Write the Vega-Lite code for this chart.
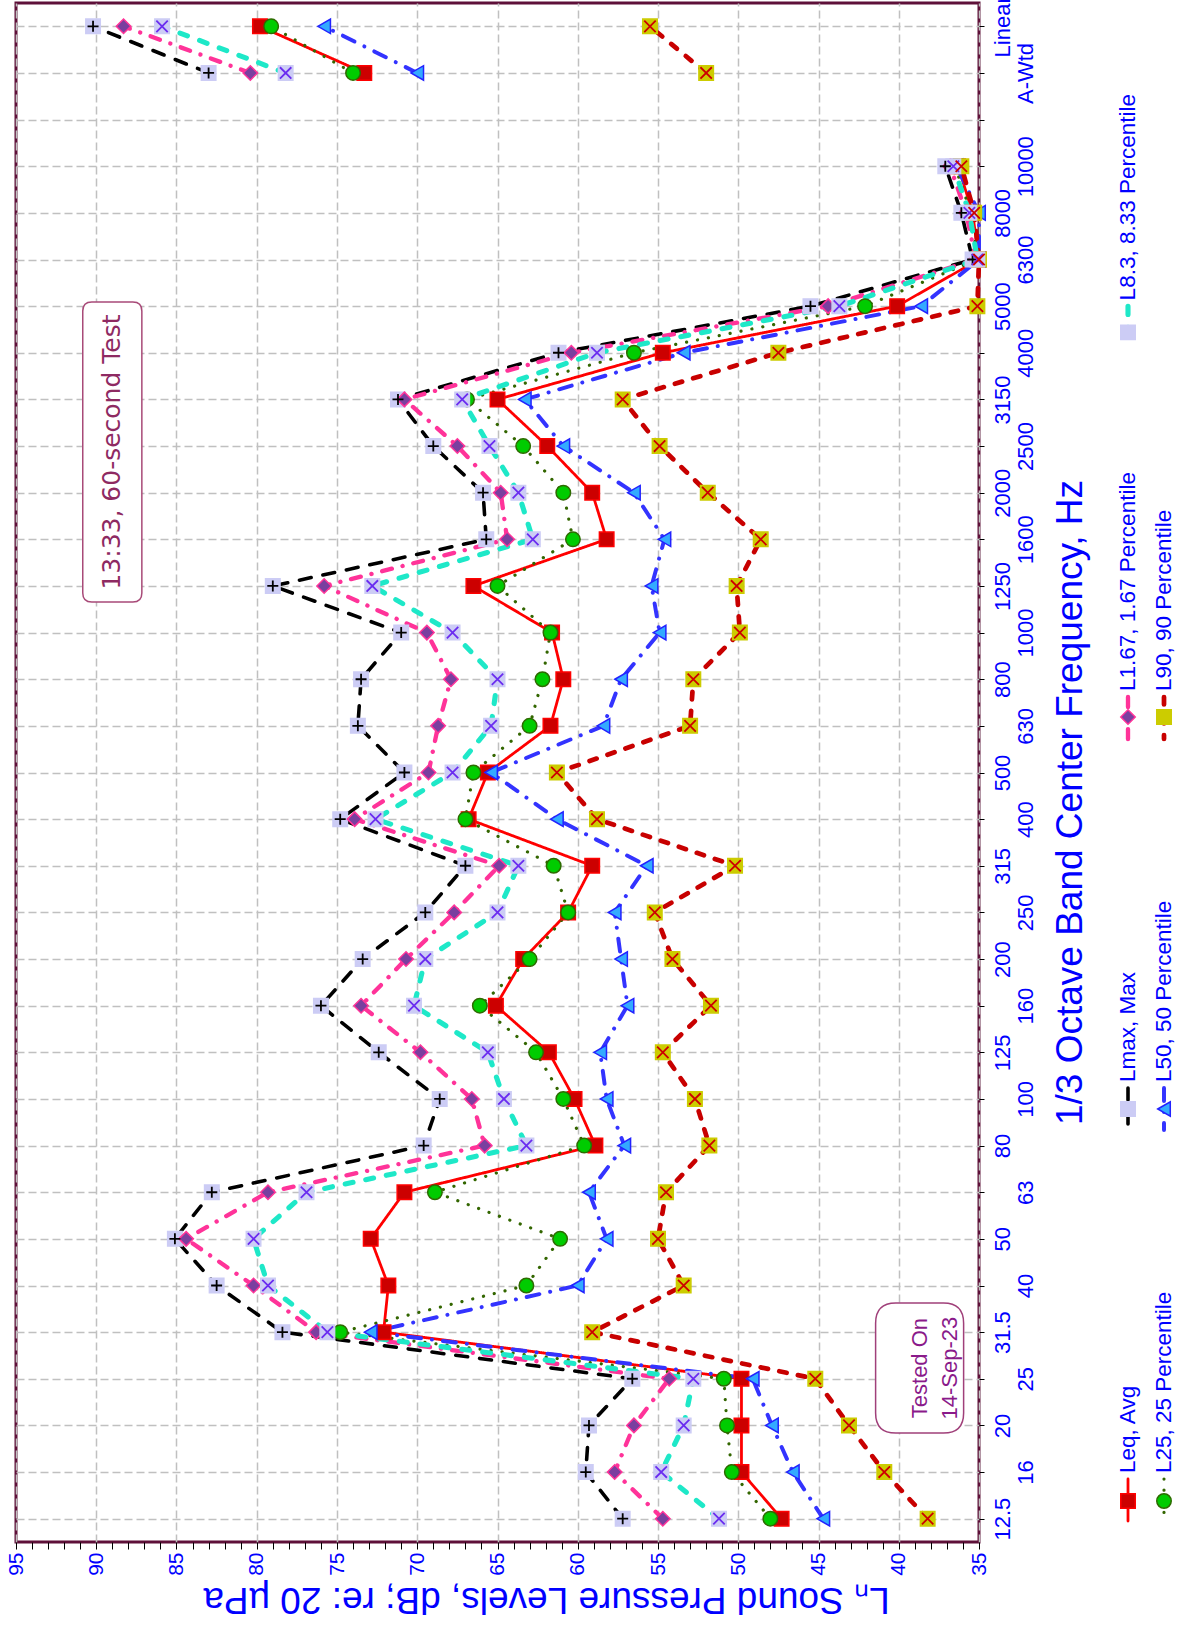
{
  "$schema": "https://vega.github.io/schema/vega-lite/v6.json",
  "width": 963,
  "height": 1539,
  "autosize": {"type": "none"},
  "padding": {"left": 16, "top": 3, "right": 201, "bottom": 91},
  "background": "white",
  "config": {
    "view": {"stroke": "#5e1039", "strokeWidth": 3},
    "font": "Liberation Sans"
  },
  "data": {"values": [
    {"freq":"12.5","series":"Leq, Avg","db":47.3,"part":"band"},{"freq":"16","series":"Leq, Avg","db":49.8,"part":"band"},{"freq":"20","series":"Leq, Avg","db":49.8,"part":"band"},{"freq":"25","series":"Leq, Avg","db":49.8,"part":"band"},{"freq":"31.5","series":"Leq, Avg","db":72.1,"part":"band"},{"freq":"40","series":"Leq, Avg","db":71.8,"part":"band"},{"freq":"50","series":"Leq, Avg","db":72.9,"part":"band"},{"freq":"63","series":"Leq, Avg","db":70.8,"part":"band"},{"freq":"80","series":"Leq, Avg","db":58.9,"part":"band"},{"freq":"100","series":"Leq, Avg","db":60.2,"part":"band"},{"freq":"125","series":"Leq, Avg","db":61.8,"part":"band"},{"freq":"160","series":"Leq, Avg","db":65.1,"part":"band"},{"freq":"200","series":"Leq, Avg","db":63.4,"part":"band"},{"freq":"250","series":"Leq, Avg","db":60.6,"part":"band"},{"freq":"315","series":"Leq, Avg","db":59.1,"part":"band"},{"freq":"400","series":"Leq, Avg","db":66.8,"part":"band"},{"freq":"500","series":"Leq, Avg","db":65.6,"part":"band"},{"freq":"630","series":"Leq, Avg","db":61.7,"part":"band"},{"freq":"800","series":"Leq, Avg","db":60.9,"part":"band"},{"freq":"1000","series":"Leq, Avg","db":61.6,"part":"band"},{"freq":"1250","series":"Leq, Avg","db":66.5,"part":"band"},{"freq":"1600","series":"Leq, Avg","db":58.2,"part":"band"},{"freq":"2000","series":"Leq, Avg","db":59.1,"part":"band"},{"freq":"2500","series":"Leq, Avg","db":61.9,"part":"band"},{"freq":"3150","series":"Leq, Avg","db":65.0,"part":"band"},{"freq":"4000","series":"Leq, Avg","db":54.7,"part":"band"},{"freq":"5000","series":"Leq, Avg","db":40.1,"part":"band"},{"freq":"6300","series":"Leq, Avg","db":35.0,"part":"band"},{"freq":"8000","series":"Leq, Avg","db":35.4,"part":"band"},{"freq":"10000","series":"Leq, Avg","db":36.3,"part":"band"},{"freq":"A-Wtd","series":"Leq, Avg","db":73.3,"part":"overall"},{"freq":"Linear","series":"Leq, Avg","db":79.8,"part":"overall"},
    {"freq":"12.5","series":"L25, 25 Percentile","db":48.0,"part":"band"},{"freq":"16","series":"L25, 25 Percentile","db":50.4,"part":"band"},{"freq":"20","series":"L25, 25 Percentile","db":50.7,"part":"band"},{"freq":"25","series":"L25, 25 Percentile","db":50.9,"part":"band"},{"freq":"31.5","series":"L25, 25 Percentile","db":74.8,"part":"band"},{"freq":"40","series":"L25, 25 Percentile","db":63.2,"part":"band"},{"freq":"50","series":"L25, 25 Percentile","db":61.1,"part":"band"},{"freq":"63","series":"L25, 25 Percentile","db":68.9,"part":"band"},{"freq":"80","series":"L25, 25 Percentile","db":59.6,"part":"band"},{"freq":"100","series":"L25, 25 Percentile","db":60.9,"part":"band"},{"freq":"125","series":"L25, 25 Percentile","db":62.6,"part":"band"},{"freq":"160","series":"L25, 25 Percentile","db":66.1,"part":"band"},{"freq":"200","series":"L25, 25 Percentile","db":63.0,"part":"band"},{"freq":"250","series":"L25, 25 Percentile","db":60.6,"part":"band"},{"freq":"315","series":"L25, 25 Percentile","db":61.5,"part":"band"},{"freq":"400","series":"L25, 25 Percentile","db":67.0,"part":"band"},{"freq":"500","series":"L25, 25 Percentile","db":66.5,"part":"band"},{"freq":"630","series":"L25, 25 Percentile","db":63.0,"part":"band"},{"freq":"800","series":"L25, 25 Percentile","db":62.2,"part":"band"},{"freq":"1000","series":"L25, 25 Percentile","db":61.7,"part":"band"},{"freq":"1250","series":"L25, 25 Percentile","db":65.0,"part":"band"},{"freq":"1600","series":"L25, 25 Percentile","db":60.3,"part":"band"},{"freq":"2000","series":"L25, 25 Percentile","db":60.9,"part":"band"},{"freq":"2500","series":"L25, 25 Percentile","db":63.4,"part":"band"},{"freq":"3150","series":"L25, 25 Percentile","db":66.9,"part":"band"},{"freq":"4000","series":"L25, 25 Percentile","db":56.5,"part":"band"},{"freq":"5000","series":"L25, 25 Percentile","db":42.1,"part":"band"},{"freq":"6300","series":"L25, 25 Percentile","db":35.1,"part":"band"},{"freq":"8000","series":"L25, 25 Percentile","db":35.5,"part":"band"},{"freq":"10000","series":"L25, 25 Percentile","db":36.5,"part":"band"},{"freq":"A-Wtd","series":"L25, 25 Percentile","db":74.0,"part":"overall"},{"freq":"Linear","series":"L25, 25 Percentile","db":79.1,"part":"overall"},
    {"freq":"12.5","series":"Lmax, Max","db":57.2,"part":"band"},{"freq":"16","series":"Lmax, Max","db":59.5,"part":"band"},{"freq":"20","series":"Lmax, Max","db":59.3,"part":"band"},{"freq":"25","series":"Lmax, Max","db":56.6,"part":"band"},{"freq":"31.5","series":"Lmax, Max","db":78.4,"part":"band"},{"freq":"40","series":"Lmax, Max","db":82.5,"part":"band"},{"freq":"50","series":"Lmax, Max","db":85.1,"part":"band"},{"freq":"63","series":"Lmax, Max","db":82.8,"part":"band"},{"freq":"80","series":"Lmax, Max","db":69.6,"part":"band"},{"freq":"100","series":"Lmax, Max","db":68.6,"part":"band"},{"freq":"125","series":"Lmax, Max","db":72.4,"part":"band"},{"freq":"160","series":"Lmax, Max","db":76.0,"part":"band"},{"freq":"200","series":"Lmax, Max","db":73.4,"part":"band"},{"freq":"250","series":"Lmax, Max","db":69.5,"part":"band"},{"freq":"315","series":"Lmax, Max","db":67.0,"part":"band"},{"freq":"400","series":"Lmax, Max","db":74.8,"part":"band"},{"freq":"500","series":"Lmax, Max","db":70.8,"part":"band"},{"freq":"630","series":"Lmax, Max","db":73.7,"part":"band"},{"freq":"800","series":"Lmax, Max","db":73.5,"part":"band"},{"freq":"1000","series":"Lmax, Max","db":71.0,"part":"band"},{"freq":"1250","series":"Lmax, Max","db":79.0,"part":"band"},{"freq":"1600","series":"Lmax, Max","db":65.7,"part":"band"},{"freq":"2000","series":"Lmax, Max","db":65.9,"part":"band"},{"freq":"2500","series":"Lmax, Max","db":69.0,"part":"band"},{"freq":"3150","series":"Lmax, Max","db":71.2,"part":"band"},{"freq":"4000","series":"Lmax, Max","db":61.2,"part":"band"},{"freq":"5000","series":"Lmax, Max","db":45.5,"part":"band"},{"freq":"6300","series":"Lmax, Max","db":35.4,"part":"band"},{"freq":"8000","series":"Lmax, Max","db":36.1,"part":"band"},{"freq":"10000","series":"Lmax, Max","db":37.1,"part":"band"},{"freq":"A-Wtd","series":"Lmax, Max","db":83.0,"part":"overall"},{"freq":"Linear","series":"Lmax, Max","db":90.2,"part":"overall"},
    {"freq":"12.5","series":"L50, 50 Percentile","db":44.7,"part":"band"},{"freq":"16","series":"L50, 50 Percentile","db":46.6,"part":"band"},{"freq":"20","series":"L50, 50 Percentile","db":47.9,"part":"band"},{"freq":"25","series":"L50, 50 Percentile","db":49.1,"part":"band"},{"freq":"31.5","series":"L50, 50 Percentile","db":72.9,"part":"band"},{"freq":"40","series":"L50, 50 Percentile","db":60.0,"part":"band"},{"freq":"50","series":"L50, 50 Percentile","db":58.2,"part":"band"},{"freq":"63","series":"L50, 50 Percentile","db":59.3,"part":"band"},{"freq":"80","series":"L50, 50 Percentile","db":57.1,"part":"band"},{"freq":"100","series":"L50, 50 Percentile","db":58.2,"part":"band"},{"freq":"125","series":"L50, 50 Percentile","db":58.6,"part":"band"},{"freq":"160","series":"L50, 50 Percentile","db":56.9,"part":"band"},{"freq":"200","series":"L50, 50 Percentile","db":57.3,"part":"band"},{"freq":"250","series":"L50, 50 Percentile","db":57.7,"part":"band"},{"freq":"315","series":"L50, 50 Percentile","db":55.7,"part":"band"},{"freq":"400","series":"L50, 50 Percentile","db":61.3,"part":"band"},{"freq":"500","series":"L50, 50 Percentile","db":65.4,"part":"band"},{"freq":"630","series":"L50, 50 Percentile","db":58.4,"part":"band"},{"freq":"800","series":"L50, 50 Percentile","db":57.3,"part":"band"},{"freq":"1000","series":"L50, 50 Percentile","db":54.9,"part":"band"},{"freq":"1250","series":"L50, 50 Percentile","db":55.4,"part":"band"},{"freq":"1600","series":"L50, 50 Percentile","db":54.6,"part":"band"},{"freq":"2000","series":"L50, 50 Percentile","db":56.5,"part":"band"},{"freq":"2500","series":"L50, 50 Percentile","db":60.9,"part":"band"},{"freq":"3150","series":"L50, 50 Percentile","db":63.3,"part":"band"},{"freq":"4000","series":"L50, 50 Percentile","db":53.4,"part":"band"},{"freq":"5000","series":"L50, 50 Percentile","db":38.6,"part":"band"},{"freq":"6300","series":"L50, 50 Percentile","db":35.0,"part":"band"},{"freq":"8000","series":"L50, 50 Percentile","db":35.0,"part":"band"},{"freq":"10000","series":"L50, 50 Percentile","db":36.4,"part":"band"},{"freq":"A-Wtd","series":"L50, 50 Percentile","db":70.0,"part":"overall"},{"freq":"Linear","series":"L50, 50 Percentile","db":75.8,"part":"overall"},
    {"freq":"12.5","series":"L1.67, 1.67 Percentile","db":54.7,"part":"band"},{"freq":"16","series":"L1.67, 1.67 Percentile","db":57.7,"part":"band"},{"freq":"20","series":"L1.67, 1.67 Percentile","db":56.5,"part":"band"},{"freq":"25","series":"L1.67, 1.67 Percentile","db":54.3,"part":"band"},{"freq":"31.5","series":"L1.67, 1.67 Percentile","db":76.3,"part":"band"},{"freq":"40","series":"L1.67, 1.67 Percentile","db":80.2,"part":"band"},{"freq":"50","series":"L1.67, 1.67 Percentile","db":84.4,"part":"band"},{"freq":"63","series":"L1.67, 1.67 Percentile","db":79.3,"part":"band"},{"freq":"80","series":"L1.67, 1.67 Percentile","db":65.8,"part":"band"},{"freq":"100","series":"L1.67, 1.67 Percentile","db":66.6,"part":"band"},{"freq":"125","series":"L1.67, 1.67 Percentile","db":69.8,"part":"band"},{"freq":"160","series":"L1.67, 1.67 Percentile","db":73.5,"part":"band"},{"freq":"200","series":"L1.67, 1.67 Percentile","db":70.7,"part":"band"},{"freq":"250","series":"L1.67, 1.67 Percentile","db":67.7,"part":"band"},{"freq":"315","series":"L1.67, 1.67 Percentile","db":64.9,"part":"band"},{"freq":"400","series":"L1.67, 1.67 Percentile","db":73.9,"part":"band"},{"freq":"500","series":"L1.67, 1.67 Percentile","db":69.3,"part":"band"},{"freq":"630","series":"L1.67, 1.67 Percentile","db":68.7,"part":"band"},{"freq":"800","series":"L1.67, 1.67 Percentile","db":67.9,"part":"band"},{"freq":"1000","series":"L1.67, 1.67 Percentile","db":69.4,"part":"band"},{"freq":"1250","series":"L1.67, 1.67 Percentile","db":75.8,"part":"band"},{"freq":"1600","series":"L1.67, 1.67 Percentile","db":64.4,"part":"band"},{"freq":"2000","series":"L1.67, 1.67 Percentile","db":64.8,"part":"band"},{"freq":"2500","series":"L1.67, 1.67 Percentile","db":67.5,"part":"band"},{"freq":"3150","series":"L1.67, 1.67 Percentile","db":70.8,"part":"band"},{"freq":"4000","series":"L1.67, 1.67 Percentile","db":60.4,"part":"band"},{"freq":"5000","series":"L1.67, 1.67 Percentile","db":44.4,"part":"band"},{"freq":"6300","series":"L1.67, 1.67 Percentile","db":35.2,"part":"band"},{"freq":"8000","series":"L1.67, 1.67 Percentile","db":35.8,"part":"band"},{"freq":"10000","series":"L1.67, 1.67 Percentile","db":36.8,"part":"band"},{"freq":"A-Wtd","series":"L1.67, 1.67 Percentile","db":80.4,"part":"overall"},{"freq":"Linear","series":"L1.67, 1.67 Percentile","db":88.3,"part":"overall"},
    {"freq":"12.5","series":"L90, 90 Percentile","db":38.2,"part":"band"},{"freq":"16","series":"L90, 90 Percentile","db":40.9,"part":"band"},{"freq":"20","series":"L90, 90 Percentile","db":43.1,"part":"band"},{"freq":"25","series":"L90, 90 Percentile","db":45.2,"part":"band"},{"freq":"31.5","series":"L90, 90 Percentile","db":59.1,"part":"band"},{"freq":"40","series":"L90, 90 Percentile","db":53.4,"part":"band"},{"freq":"50","series":"L90, 90 Percentile","db":55.0,"part":"band"},{"freq":"63","series":"L90, 90 Percentile","db":54.5,"part":"band"},{"freq":"80","series":"L90, 90 Percentile","db":51.8,"part":"band"},{"freq":"100","series":"L90, 90 Percentile","db":52.7,"part":"band"},{"freq":"125","series":"L90, 90 Percentile","db":54.7,"part":"band"},{"freq":"160","series":"L90, 90 Percentile","db":51.7,"part":"band"},{"freq":"200","series":"L90, 90 Percentile","db":54.1,"part":"band"},{"freq":"250","series":"L90, 90 Percentile","db":55.2,"part":"band"},{"freq":"315","series":"L90, 90 Percentile","db":50.2,"part":"band"},{"freq":"400","series":"L90, 90 Percentile","db":58.8,"part":"band"},{"freq":"500","series":"L90, 90 Percentile","db":61.3,"part":"band"},{"freq":"630","series":"L90, 90 Percentile","db":53.0,"part":"band"},{"freq":"800","series":"L90, 90 Percentile","db":52.8,"part":"band"},{"freq":"1000","series":"L90, 90 Percentile","db":49.9,"part":"band"},{"freq":"1250","series":"L90, 90 Percentile","db":50.1,"part":"band"},{"freq":"1600","series":"L90, 90 Percentile","db":48.6,"part":"band"},{"freq":"2000","series":"L90, 90 Percentile","db":51.9,"part":"band"},{"freq":"2500","series":"L90, 90 Percentile","db":54.9,"part":"band"},{"freq":"3150","series":"L90, 90 Percentile","db":57.2,"part":"band"},{"freq":"4000","series":"L90, 90 Percentile","db":47.5,"part":"band"},{"freq":"5000","series":"L90, 90 Percentile","db":35.1,"part":"band"},{"freq":"6300","series":"L90, 90 Percentile","db":35.0,"part":"band"},{"freq":"8000","series":"L90, 90 Percentile","db":35.3,"part":"band"},{"freq":"10000","series":"L90, 90 Percentile","db":36.1,"part":"band"},{"freq":"A-Wtd","series":"L90, 90 Percentile","db":52.0,"part":"overall"},{"freq":"Linear","series":"L90, 90 Percentile","db":55.5,"part":"overall"},
    {"freq":"12.5","series":"L8.3, 8.33 Percentile","db":51.2,"part":"band"},{"freq":"16","series":"L8.3, 8.33 Percentile","db":54.8,"part":"band"},{"freq":"20","series":"L8.3, 8.33 Percentile","db":53.4,"part":"band"},{"freq":"25","series":"L8.3, 8.33 Percentile","db":52.8,"part":"band"},{"freq":"31.5","series":"L8.3, 8.33 Percentile","db":75.6,"part":"band"},{"freq":"40","series":"L8.3, 8.33 Percentile","db":79.3,"part":"band"},{"freq":"50","series":"L8.3, 8.33 Percentile","db":80.2,"part":"band"},{"freq":"63","series":"L8.3, 8.33 Percentile","db":76.9,"part":"band"},{"freq":"80","series":"L8.3, 8.33 Percentile","db":63.2,"part":"band"},{"freq":"100","series":"L8.3, 8.33 Percentile","db":64.6,"part":"band"},{"freq":"125","series":"L8.3, 8.33 Percentile","db":65.6,"part":"band"},{"freq":"160","series":"L8.3, 8.33 Percentile","db":70.2,"part":"band"},{"freq":"200","series":"L8.3, 8.33 Percentile","db":69.5,"part":"band"},{"freq":"250","series":"L8.3, 8.33 Percentile","db":65.0,"part":"band"},{"freq":"315","series":"L8.3, 8.33 Percentile","db":63.7,"part":"band"},{"freq":"400","series":"L8.3, 8.33 Percentile","db":72.6,"part":"band"},{"freq":"500","series":"L8.3, 8.33 Percentile","db":67.8,"part":"band"},{"freq":"630","series":"L8.3, 8.33 Percentile","db":65.4,"part":"band"},{"freq":"800","series":"L8.3, 8.33 Percentile","db":65.0,"part":"band"},{"freq":"1000","series":"L8.3, 8.33 Percentile","db":67.8,"part":"band"},{"freq":"1250","series":"L8.3, 8.33 Percentile","db":72.8,"part":"band"},{"freq":"1600","series":"L8.3, 8.33 Percentile","db":62.8,"part":"band"},{"freq":"2000","series":"L8.3, 8.33 Percentile","db":63.7,"part":"band"},{"freq":"2500","series":"L8.3, 8.33 Percentile","db":65.5,"part":"band"},{"freq":"3150","series":"L8.3, 8.33 Percentile","db":67.2,"part":"band"},{"freq":"4000","series":"L8.3, 8.33 Percentile","db":58.8,"part":"band"},{"freq":"5000","series":"L8.3, 8.33 Percentile","db":43.7,"part":"band"},{"freq":"6300","series":"L8.3, 8.33 Percentile","db":35.1,"part":"band"},{"freq":"8000","series":"L8.3, 8.33 Percentile","db":35.6,"part":"band"},{"freq":"10000","series":"L8.3, 8.33 Percentile","db":36.6,"part":"band"},{"freq":"A-Wtd","series":"L8.3, 8.33 Percentile","db":78.2,"part":"overall"},{"freq":"Linear","series":"L8.3, 8.33 Percentile","db":85.9,"part":"overall"}
  ]},
  "encoding": {
    "x": {
      "field": "db", "type": "quantitative",
      "scale": {"domain": [35, 95], "reverse": true, "nice": false, "zero": false},
      "axis": {
        "orient": "bottom",
        "values": [35,36,37,38,39,40,41,42,43,44,45,46,47,48,49,50,51,52,53,54,55,56,57,58,59,60,61,62,63,64,65,66,67,68,69,70,71,72,73,74,75,76,77,78,79,80,81,82,83,84,85,86,87,88,89,90,91,92,93,94,95],
        "labelExpr": "datum.value % 5 === 0 ? datum.label : ''",
        "labelAngle": 270, "labelAlign": "right", "labelBaseline": "middle",
        "labelFont": "Liberation Sans", "labelFontSize": 21, "labelColor": "#0000ff",
        "labelPadding": 3, "labelOverlap": false, "labelFlush": false,
        "tickSize": 7, "tickColor": "#000000", "tickWidth": 1,
        "domain": false,
        "grid": true, "gridColor": "#c0c0c0", "gridDash": [8, 4], "gridWidth": 1.5,
        "gridOpacity": {"condition": {"test": "datum.value % 5 === 0", "value": 1}, "value": 0},
        "title": "Lₙ Sound Pressure Levels, dB; re: 20 µPa",
        "titleAngle": 180, "titleBaseline": "bottom", "titleFont": "Liberation Sans",
        "titleFontSize": 37, "titleFontWeight": "normal", "titleColor": "#0000ff",
        "titlePadding": 4, "titleX": 530
      }
    },
    "y": {
      "field": "freq", "type": "ordinal",
      "scale": {"type": "point", "padding": 0.5, "domain": ["Linear","A-Wtd","gap","10000","8000","6300","5000","4000","3150","2500","2000","1600","1250","1000","800","630","500","400","315","250","200","160","125","100","80","63","50","40","31.5","25","20","16","12.5"]},
      "axis": {
        "orient": "right",
        "labelExpr": "datum.label == 'gap' ? '' : indexof(['16','25','40','63','100','160','250','400','630','1000','1600','2500','4000','6300','10000','A-Wtd'], datum.label) >= 0 ? ['', datum.label] : [datum.label, '']",
        "labelAngle": 270, "labelAlign": "center", "labelBaseline": "top",
        "labelFont": "Liberation Sans", "labelFontSize": 22, "labelColor": "#0000ff",
        "labelLineHeight": 23, "labelPadding": 8, "labelOverlap": false,
        "tickSize": 5, "tickColor": "#000000", "tickWidth": 1,
        "domain": false,
        "grid": true, "gridColor": "#c0c0c0", "gridDash": [8, 4], "gridWidth": 1.5,
        "title": "1/3 Octave Band Center Frequency, Hz",
        "titleAngle": 270, "titleBaseline": "top", "titleFont": "Liberation Sans",
        "titleFontSize": 37, "titleFontWeight": "normal", "titleColor": "#0000ff",
        "titlePadding": 16, "titleY": 799
      }
    }
  },
  "layer": [
    {
      "mark": {"type": "line", "strokeCap": "round", "strokeJoin": "round"},
      "encoding": {
        "color": {
          "field": "series", "type": "nominal",
          "scale": {
            "domain": ["Leq, Avg","L25, 25 Percentile","Lmax, Max","L50, 50 Percentile","L1.67, 1.67 Percentile","L90, 90 Percentile","L8.3, 8.33 Percentile"," "],
            "range": ["#ff0000","#336600","#000000","#3333ff","#ff3399","#c80000","#1ee8c8","transparent"]
          },
          "legend": {
            "title": null, "orient": "none", "legendX": 1112, "legendY": 324,
            "direction": "vertical", "columns": 2, "gridAlign": "all",
            "rowPadding": 113, "columnPadding": 12, "padding": 0,
            "values": ["L8.3, 8.33 Percentile","L1.67, 1.67 Percentile","Lmax, Max","Leq, Avg"," ","L90, 90 Percentile","L50, 50 Percentile","L25, 25 Percentile"],
            "symbolType": "M0,-1L0,1", "symbolSize": 1764, "symbolStrokeWidth": 3.5,
            "labelFont": "Liberation Sans", "labelFontSize": 22.5, "labelColor": "#0000ff",
            "labelAlign": "left", "labelBaseline": "middle", "labelLimit": 600,
            "encoding": {
              "symbols": {"x": {"value": 0}, "y": {"value": 0}, "strokeCap": {"value": "round"}},
              "labels": {"x": {"value": 0}, "y": {"value": -27}, "angle": {"value": 270}}
            }
          }
        },
        "strokeDash": {
          "field": "series", "type": "nominal",
          "scale": {
            "domain": ["Leq, Avg","L25, 25 Percentile","Lmax, Max","L50, 50 Percentile","L1.67, 1.67 Percentile","L90, 90 Percentile","L8.3, 8.33 Percentile"," "],
            "range": [[1,0],[0.1,11],[12,12],[13,11,0.1,11],[10,11,0.1,11],[7.5,11.5],[8,13],[1,0]]
          }
        },
        "strokeWidth": {
          "field": "series", "type": "ordinal",
          "scale": {
            "domain": ["Leq, Avg","L25, 25 Percentile","Lmax, Max","L50, 50 Percentile","L1.67, 1.67 Percentile","L90, 90 Percentile","L8.3, 8.33 Percentile"," "],
            "range": [2.8,5.5,4,4,4,5.5,5,1]
          },
          "legend": null
        },
        "detail": {"field": "part"},
        "order": {"value": null}
      }
    },
    {
      "mark": {"type": "point", "filled": true, "size": 210, "strokeWidth": 1.5, "opacity": 1},
      "encoding": {
        "shape": {
          "field": "series", "type": "nominal",
          "scale": {
            "domain": [" ","Leq, Avg","L25, 25 Percentile","Lmax, Max","L50, 50 Percentile","L1.67, 1.67 Percentile","L90, 90 Percentile","L8.3, 8.33 Percentile"],
            "range": ["M0,-3.03L0,3.03","square","circle","square","triangle-left","diamond","square","square"]
          },
          "legend": {
            "title": null, "orient": "none", "legendX": 1112, "legendY": 322,
            "direction": "vertical", "columns": 2, "gridAlign": "all",
            "rowPadding": 121, "columnPadding": 12, "padding": 0,
            "values": ["L8.3, 8.33 Percentile","L1.67, 1.67 Percentile","Lmax, Max","Leq, Avg"," ","L90, 90 Percentile","L50, 50 Percentile","L25, 25 Percentile"],
            "symbolSize": 210, "symbolStrokeWidth": 1.5,
            "labelFont": "Liberation Sans", "labelFontSize": 22.5, "labelColor": "#0000ff", "labelOpacity": 0,
            "labelAlign": "left", "labelBaseline": "middle", "labelLimit": 600,
            "encoding": {
              "symbols": {"x": {"value": 0}, "y": {"value": 0}},
              "labels": {"x": {"value": 0}, "y": {"value": -27}, "angle": {"value": 270}}
            }
          }
        },
        "fill": {
          "field": "series", "type": "nominal",
          "scale": {
            "domain": [" ","Leq, Avg","L25, 25 Percentile","Lmax, Max","L50, 50 Percentile","L1.67, 1.67 Percentile","L90, 90 Percentile","L8.3, 8.33 Percentile"],
            "range": ["transparent","#cc0000","#00cc00","#ccccf5","#33aaff","#7a3f9f","#cccc00","#ccccf5"]
          }
        },
        "stroke": {
          "field": "series", "type": "nominal",
          "scale": {
            "domain": [" ","Leq, Avg","L25, 25 Percentile","Lmax, Max","L50, 50 Percentile","L1.67, 1.67 Percentile","L90, 90 Percentile","L8.3, 8.33 Percentile"],
            "range": ["transparent","#ff0000","#2d6b00","#ccccf5","#2222ff","#ff3399","#cccc00","#ccccf5"]
          }
        }
      }
    },
    {
      "transform": [{"filter": "datum.series == 'Lmax, Max'"}],
      "mark": {"type": "point", "shape": "M-1,0L1,0M0,-1L0,1", "size": 121, "filled": false, "stroke": "#000000", "strokeWidth": 1.8, "opacity": 1}
    },
    {
      "transform": [{"filter": "datum.series == 'L8.3, 8.33 Percentile'"}],
      "mark": {"type": "point", "shape": "M-1,-1L1,1M-1,1L1,-1", "size": 130, "filled": false, "stroke": "#6a2cf0", "strokeWidth": 1.8, "opacity": 1}
    },
    {
      "transform": [{"filter": "datum.series == 'L90, 90 Percentile'"}],
      "mark": {"type": "point", "shape": "M-1,-1L1,1M-1,1L1,-1", "size": 130, "filled": false, "stroke": "#cc0000", "strokeWidth": 1.8, "opacity": 1}
    },
    {
      "data": {"values": [{"note": "13:33, 60-second Test", "db": 89.0, "freq": "2500"}]},
      "mark": {"type": "point", "shape": "M-0.137,-1L0.137,-1Q0.197,-1 0.197,-0.94L0.197,0.94Q0.197,1 0.137,1L-0.137,1Q-0.197,1 -0.197,0.94L-0.197,-0.94Q-0.197,-1 -0.137,-1Z", "size": 90000, "filled": true, "fill": "#ffffff", "stroke": "#a84a78", "strokeWidth": 1.5, "opacity": 1, "yOffset": 6}
    },
    {
      "data": {"values": [{"note": "13:33, 60-second Test", "db": 89.0, "freq": "2500"}]},
      "mark": {"type": "text", "angle": 270, "align": "center", "baseline": "middle", "font": "DejaVu Sans", "fontSize": 25, "color": "#8e2a62", "yOffset": 6},
      "encoding": {"text": {"field": "note"}}
    },
    {
      "data": {"values": [{"note": "Tested On\n14-Sep-23", "db": 38.7, "freq": "25"}]},
      "mark": {"type": "point", "shape": "M-0.367,-1L0.367,-1Q0.677,-1 0.677,-0.69L0.677,0.69Q0.677,1 0.367,1L-0.367,1Q-0.677,1 -0.677,0.69L-0.677,-0.69Q-0.677,-1 -0.367,-1Z", "size": 16900, "filled": true, "fill": "#ffffff", "stroke": "#a0407a", "strokeWidth": 1.5, "opacity": 1, "yOffset": -10.7}
    },
    {
      "data": {"values": [{"note": "Tested On\n14-Sep-23", "db": 38.7, "freq": "25"}]},
      "mark": {"type": "text", "angle": 270, "align": "center", "baseline": "middle", "lineBreak": "\n", "lineHeight": 30, "font": "Liberation Sans", "fontSize": 22, "color": "#8a1a8a", "yOffset": -10.7},
      "encoding": {"text": {"field": "note"}}
    }
  ]
}
